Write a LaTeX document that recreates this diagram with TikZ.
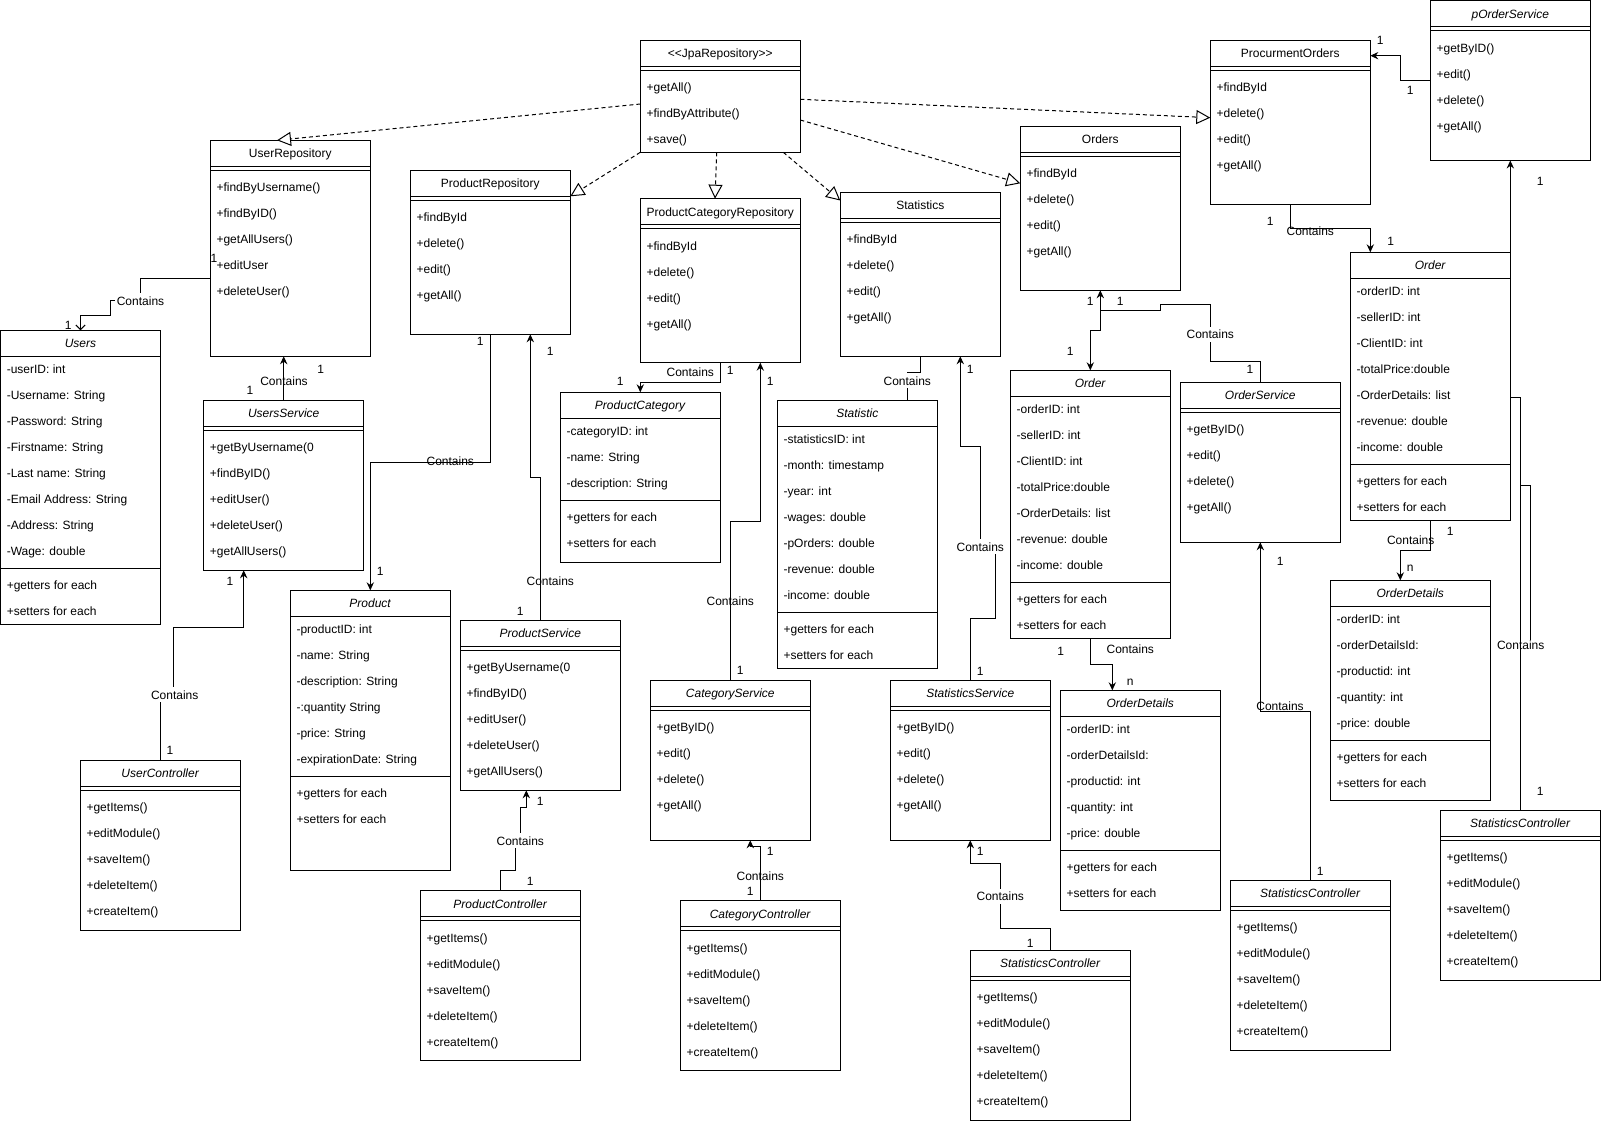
\documentclass[tikz,border=0pt]{standalone}
\usepackage{fontspec}
\setmainfont{Liberation Sans}
\usetikzlibrary{arrows.meta,calc}
\newcommand{\umlfs}{\fontsize{9}{10.8}\selectfont}
\tikzset{
  ln/.style={line width=0.75pt},
  clsbox/.style={draw, line width=0.75pt, inner sep=0pt, outer sep=0pt, anchor=north west, minimum width=120pt},
  sepln/.style={line width=0.75pt},
  ttl/.style={inner sep=0pt, font=\umlfs, text height=8pt, text depth=1pt},
  itm/.style={anchor=west, inner sep=0pt, font=\umlfs, text height=8pt, text depth=1pt},
  umllbl/.style={inner sep=1pt, font=\umlfs, text height=8pt, text depth=1pt},
  umllblw/.style={umllbl, fill=white},
  umlarr/.style={ln, -{Stealth[length=6pt,width=5.5pt,inset=2pt]}},
  umlopen/.style={ln, -{Straight Barb[length=3.5pt,width=7pt]}},
  umlinh/.style={ln, dash pattern=on 3pt off 2.25pt, -{Triangle[open,length=10.5pt,width=10.5pt,fill=white]}},
}
% class with methods only: name, x, y, height, title, methods
\newcommand{\opclass}[6]{%
  \node[clsbox, minimum height={#4*0.75pt}] (#1) at (#2,#3) {};
  \draw[sepln] (#2,#3+26) -- ++(160,0);
  \draw[sepln] (#2,#3+30) -- ++(160,0);
  \node[ttl] (#1-t) at (#2+80,#3+13) {#5};
  \foreach \m [count=\i] in {#6} {\node[itm] (#1-m\i) at (#2+6,#3+21+26*\i) {\m};}
}
% class with attributes and methods: name, x, y, height, title, n attrs, attrs, methods
\newcommand{\atclass}[8]{%
  \node[clsbox, minimum height={#4*0.75pt}] (#1) at (#2,#3) {};
  \draw[sepln] (#2,#3+26) -- ++(160,0);
  \draw[sepln] (#2,#3+30+26*#6) -- ++(160,0);
  \node[ttl] (#1-t) at (#2+80,#3+13) {#5};
  \foreach \m [count=\i] in {#7} {\node[itm] (#1-a\i) at (#2+6,#3+13+26*\i) {\m};}
  \foreach \m [count=\i] in {#8} {\node[itm] (#1-m\i) at (#2+6,#3+21+26*#6+26*\i) {\m};}
}
\begin{document}
\begin{tikzpicture}[x=0.75pt,y=-0.75pt]
\useasboundingbox (0,0) rectangle (1601,1121);
\fill[white] (0,0) rectangle (1601,1121);

% ---------- classes ----------
\opclass{jpa}{640.3}{40.3}{112}{<{}<JpaRepository>{}>}{+getAll(),+findByAttribute(),+save()}
\opclass{userrepo}{210.3}{140.3}{216}{UserRepository}{+findByUsername(),+findByID(),+getAllUsers(),+editUser,+deleteUser()}
\atclass{users}{0.5}{330.3}{294}{\textit{Users}}{8}{-userID: int,-Username: String,-Password: String,-Firstname: String,-Last name: String,-Email Address: String,-Address: String,-Wage: double}{+getters for each,+setters for each}
\opclass{usersvc}{203.7}{400.3}{170}{\textit{UsersService}}{+getByUsername(0,+findByID(),+editUser(),+deleteUser(),+getAllUsers()}
\opclass{userctrl}{80.3}{760.3}{170}{\textit{UserController}}{+getItems(),+editModule(),+saveItem(),+deleteItem(),+createItem()}

\opclass{prodrepo}{410.3}{170.3}{164}{ProductRepository}{+findById,+delete(),+edit(),+getAll()}
\atclass{product}{290.3}{590.3}{280}{\textit{Product}}{6}{-productID: int,-name: String,-description: String,-:quantity String,-price: String,-expirationDate: String}{+getters for each,+setters for each}
\opclass{prodsvc}{460.3}{620.3}{170}{\textit{ProductService}}{+getByUsername(0,+findByID(),+editUser(),+deleteUser(),+getAllUsers()}
\opclass{prodctrl}{420.3}{890.5}{170}{\textit{ProductController}}{+getItems(),+editModule(),+saveItem(),+deleteItem(),+createItem()}

\opclass{prodcatrepo}{640.3}{198.7}{164}{ProductCategoryRepository}{+findById,+delete(),+edit(),+getAll()}
\atclass{prodcat}{560.3}{392.3}{170}{\textit{ProductCategory}}{3}{-categoryID: int,-name: String,-description: String}{+getters for each,+setters for each}
\opclass{catsvc}{650.3}{680.3}{160}{\textit{CategoryService}}{+getByID(),+edit(),+delete(),+getAll()}
\opclass{catctrl}{680.3}{900.5}{170}{\textit{CategoryController}}{+getItems(),+editModule(),+saveItem(),+deleteItem(),+createItem()}

\opclass{statistics}{840.3}{192.3}{164}{Statistics}{+findById,+delete(),+edit(),+getAll()}
\atclass{statistic}{777.3}{400.3}{268}{\textit{Statistic}}{7}{-statisticsID: int,-month: timestamp,-year: int,-wages: double,-pOrders: double,-revenue: double,-income: double}{+getters for each,+setters for each}
\opclass{statssvc}{890.3}{680.3}{160}{\textit{StatisticsService}}{+getByID(),+edit(),+delete(),+getAll()}
\opclass{statsctrlm}{970.3}{950.3}{170}{\textit{StatisticsController}}{+getItems(),+editModule(),+saveItem(),+deleteItem(),+createItem()}

\opclass{orders}{1020.3}{126.3}{164}{Orders}{+findById,+delete(),+edit(),+getAll()}
\atclass{orderm}{1010.3}{370.3}{268}{\textit{Order}}{7}{-orderID: int,-sellerID: int,-ClientID: int,-totalPrice:double,-OrderDetails: list,-revenue: double,-income: double}{+getters for each,+setters for each}
\atclass{orderdetm}{1060.3}{690.3}{220}{\textit{OrderDetails}}{5}{-orderID: int,-orderDetailsId:,-productid: int,-quantity: int,-price: double}{+getters for each,+setters for each}
\opclass{ordersvc}{1180.3}{382.3}{160}{\textit{OrderService}}{+getByID(),+edit(),+delete(),+getAll()}

\opclass{procure}{1210.3}{40.3}{164}{ProcurmentOrders}{+findById,+delete(),+edit(),+getAll()}
\opclass{pordersvc}{1430.3}{0.5}{160}{\textit{pOrderService}}{+getByID(),+edit(),+delete(),+getAll()}
\atclass{orderr}{1350.3}{252.3}{268}{\textit{Order}}{7}{-orderID: int,-sellerID: int,-ClientID: int,-totalPrice:double,-OrderDetails: list,-revenue: double,-income: double}{+getters for each,+setters for each}
\atclass{orderdetr}{1330.3}{580.3}{220}{\textit{OrderDetails}}{5}{-orderID: int,-orderDetailsId:,-productid: int,-quantity: int,-price: double}{+getters for each,+setters for each}
\opclass{statsctrlo}{1230.3}{880.3}{170}{\textit{StatisticsController}}{+getItems(),+editModule(),+saveItem(),+deleteItem(),+createItem()}
\opclass{statsctrlr}{1440.3}{810.3}{170}{\textit{StatisticsController}}{+getItems(),+editModule(),+saveItem(),+deleteItem(),+createItem()}

% ---------- realisation (dashed) ----------
\draw[umlinh] (jpa.west |- 0,104) -- (userrepo.north -| 277,0);
\draw[umlinh] (jpa.south west) -- (prodrepo.east |- 0,196.3);
\draw[umlinh] (jpa.south -| 716.7,0) -- (prodcatrepo.north -| 715,0);
\draw[umlinh] (jpa.south -| 783.3,0) -- (statistics.west |- 0,200.5);
\draw[umlinh] (jpa.east |- 0,120) -- (orders.west |- 0,183.3);
\draw[umlinh] (jpa.east |- 0,99.3) -- (procure.west |- 0,117.7);

% ---------- associations ----------
% UserRepository -> Users
\draw[umlopen] (userrepo.west |- 0,278.3) -| (140.3,300.7) -| (110.3,315) -| (users.north);
\node[umllblw] (c1) at (140.5,300.7) {Contains};
\node[umllbl] (n1a) at (214,258) {1};
\node[umllbl] (n1b) at (68.3,325) {1};
% UsersService -> UserRepository
\draw[umlarr] (usersvc.north) -- (usersvc.north |- userrepo.south);
\node[umllbl] (c2) at (284,380.7) {Contains};
\node[umllbl] (n2a) at (250,390) {1};
\node[umllbl] (n2b) at (320.7,369.3) {1};
% UserController -> UsersService
\draw[umlarr] (userctrl.north) |- (173.7,695) |- (243.7,627.3) -- (usersvc.south -| 243.7,0);
\node[umllblw] (c3) at (174.7,694.7) {Contains};
\node[umllbl] (n3a) at (230,580.7) {1};
\node[umllbl] (n3b) at (170,750) {1};
% ProductRepository -> Product
\draw[umlarr] (prodrepo.south) |- (370.3,462.3) -- (product.north);
\node[umllbl] (c4) at (450.3,460.7) {Contains};
\node[umllbl] (n4a) at (480.3,340.7) {1};
\node[umllbl] (n4b) at (380.3,570.7) {1};
% ProductService -> ProductRepository
\draw[umlarr] (prodsvc.north) |- (530.3,477.3) -- (prodrepo.south -| 530.3,0);
\node[umllbl] (c5) at (550.3,580.7) {Contains};
\node[umllbl] (n5a) at (520.3,610.7) {1};
\node[umllbl] (n5b) at (550.3,350.7) {1};
% ProductController -> ProductService
\draw[umlarr] (prodctrl.north) |- (515.3,870.7) |- (520.3,840.7) |- (526.3,807.3) -- (prodsvc.south -| 526.3,0);
\node[umllblw] (c6) at (520.3,840.7) {Contains};
\node[umllbl] (n6a) at (540.3,800.7) {1};
\node[umllbl] (n6b) at (530.3,880.7) {1};
% ProductCategoryRepository -> ProductCategory
\draw[umlarr] (prodcatrepo.south) |- (640.3,382.3) -- (prodcat.north);
\node[umllbl] (c7) at (690.3,372) {Contains};
\node[umllbl] (n7a) at (730.3,370) {1};
\node[umllbl] (n7b) at (620.3,380.7) {1};
% CategoryService -> ProductCategoryRepository
\draw[umlarr] (catsvc.north) |- (760.3,521) -- (prodcatrepo.south -| 760.3,0);
\node[umllbl] (c8) at (730.3,600.7) {Contains};
\node[umllbl] (n8a) at (740.3,670) {1};
\node[umllbl] (n8b) at (770.3,380.7) {1};
% CategoryController -> CategoryService
\draw[umlarr] (catctrl.north) |- (750.3,846.3) -- (catsvc.south -| 750.3,0);
\node[umllbl] (c9) at (760.3,876.3) {Contains};
\node[umllbl] (n9a) at (770.3,850.7) {1};
\node[umllbl] (n9b) at (750.3,890.7) {1};
% Statistics -> Statistic
\draw[ln] (statistics.south) |- (907.3,372) -- (statistic.north -| 907.3,0);
\node[umllblw] (c10) at (907.3,380.7) {Contains};
% StatisticsService -> Statistics
\draw[umlarr] (statssvc.north) |- (995.3,618.3) |- (980.3,550) |- (960.3,446.3) -- (statistics.south -| 960.3,0);
\node[umllblw] (c11) at (980.3,546.7) {Contains};
\node[umllbl] (n11a) at (980.3,670.7) {1};
\node[umllbl] (n11b) at (970.3,369.3) {1};
% StatisticsController -> StatisticsService
\draw[umlarr] (statsctrlm.north) |- (1000.3,928.3) |- (970.3,863.7) -- (statssvc.south);
\node[umllblw] (c12) at (1000.3,896.3) {Contains};
\node[umllbl] (n12a) at (980.3,850.7) {1};
\node[umllbl] (n12b) at (1030.3,943) {1};
% Orders -> Order
\draw[umlarr] (orders.south) |- (1090.3,330.3) -- (orderm.north);
% OrderService -> Orders
\draw[umlarr] (ordersvc.north) |- (1210.3,361.7) |- (1160.3,304.3) |- (1100.3,310) -- (orders.south);
\node[umllblw] (c13) at (1210.3,334.3) {Contains};
\node[umllbl] (n13a) at (1090.3,301) {1};
\node[umllbl] (n13b) at (1120.3,301) {1};
\node[umllbl] (n13c) at (1070.3,351) {1};
\node[umllbl] (n13d) at (1250,369.3) {1};
% Order -> OrderDetails (middle)
\draw[umlarr] (orderm.south) |- (1112.3,664.3) -- (orderdetm.north -| 1112.3,0);
\node[umllbl] (c14) at (1130.3,648.7) {Contains};
\node[umllbl] (n14a) at (1060.7,650.7) {1};
\node[umllbl] (n14b) at (1130.3,680.7) {n};
% pOrderService -> ProcurmentOrders
\draw[umlarr] (pordersvc.west |- 0,80.3) -| (1400.3,55.7) -- (procure.east |- 0,55.7);
\node[umllbl] (n15a) at (1380.3,40.3) {1};
\node[umllbl] (n15b) at (1410.3,90.3) {1};
% ProcurmentOrders -> Order (right)
\draw[umlarr] (procure.south) |- (1370.3,228.3) -- (orderr.north -| 1370.3,0);
\node[umllbl] (c16) at (1310.3,230.7) {Contains};
\node[umllbl] (n16a) at (1270.3,220.7) {1};
\node[umllbl] (n16b) at (1390.7,240.7) {1};
% Order (right) -> pOrderService
\draw[umlarr] (orderr.north east) -- (pordersvc.south -| orderr.north east);
\node[umllbl] (n17) at (1540.3,181) {1};
% Order (right) -> OrderDetails (right)
\draw[umlarr] (orderr.south) |- (1400.3,550) -- (orderdetr.north -| 1400.3,0);
\node[umllbl] (c18) at (1410.7,540) {Contains};
\node[umllbl] (n18a) at (1450.3,530.7) {1};
\node[umllbl] (n18b) at (1410.3,566.7) {n};
% StatisticsController -> OrderService
\draw[umlarr] (statsctrlo.north) |- (1260.3,711.3) -- (ordersvc.south);
\node[umllbl] (c19) at (1280,705.7) {Contains};
\node[umllbl] (n19a) at (1280.3,560.7) {1};
\node[umllbl] (n19b) at (1320.3,871) {1};
% Order (right) -- StatisticsController (right)
\draw[ln] (orderr.east |- 0,397.3) -| (statsctrlr.north);
\coordinate (j1) at (1520.3,485.3);
\coordinate (j2) at (1530.3,640);
\draw[ln] (j1) -| (j2);
\node[umllbl] (c20) at (1520.7,644.7) {Contains};
\node[umllbl] (n20) at (1540.3,790.7) {1};
\end{tikzpicture}
\end{document}
